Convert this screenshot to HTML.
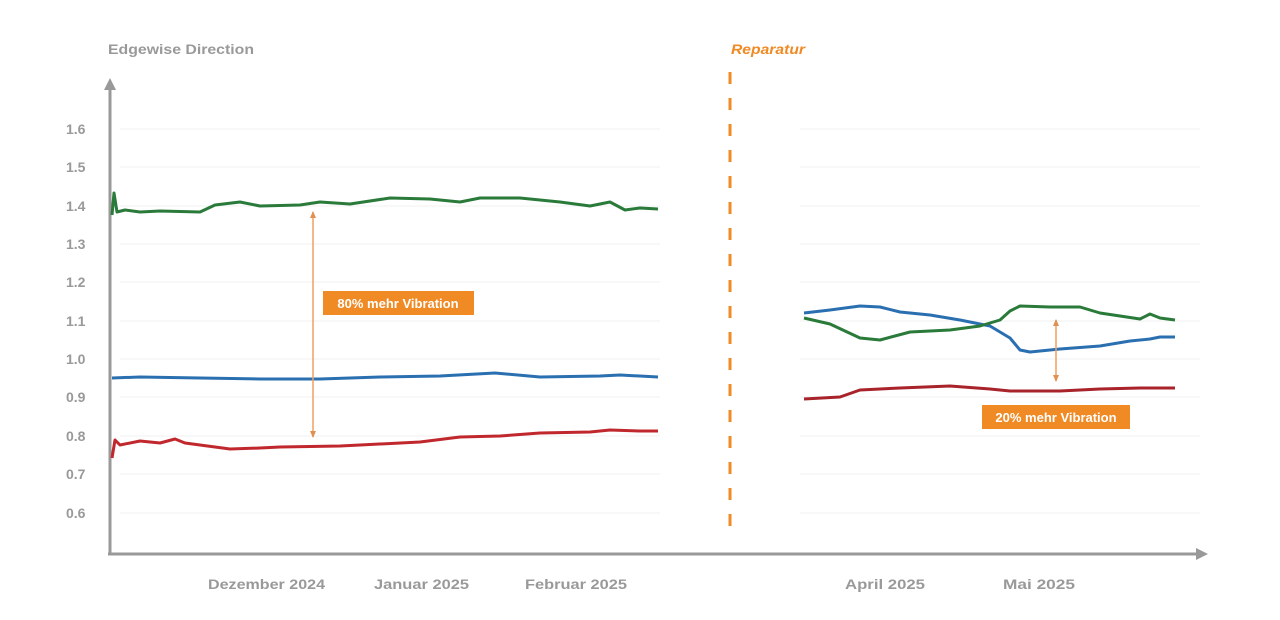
<!DOCTYPE html>
<html><head><meta charset="utf-8"><style>
body{margin:0;background:#fff;width:1280px;height:615px;overflow:hidden}
text{font-family:"Liberation Sans",sans-serif;}
</style></head><body>
<svg width="1280" height="615" viewBox="0 0 1280 615">
<g stroke="#f0f0f0" stroke-width="1">
<line x1="120" y1="129" x2="660" y2="129"/><line x1="120" y1="167" x2="660" y2="167"/><line x1="120" y1="206" x2="660" y2="206"/><line x1="120" y1="244" x2="660" y2="244"/><line x1="120" y1="282" x2="660" y2="282"/><line x1="120" y1="321" x2="660" y2="321"/><line x1="120" y1="359" x2="660" y2="359"/><line x1="120" y1="397" x2="660" y2="397"/><line x1="120" y1="436" x2="660" y2="436"/><line x1="120" y1="474" x2="660" y2="474"/><line x1="120" y1="513" x2="660" y2="513"/>
<line x1="800" y1="129" x2="1200" y2="129"/><line x1="800" y1="167" x2="1200" y2="167"/><line x1="800" y1="206" x2="1200" y2="206"/><line x1="800" y1="244" x2="1200" y2="244"/><line x1="800" y1="282" x2="1200" y2="282"/><line x1="800" y1="321" x2="1200" y2="321"/><line x1="800" y1="359" x2="1200" y2="359"/><line x1="800" y1="397" x2="1200" y2="397"/><line x1="800" y1="436" x2="1200" y2="436"/><line x1="800" y1="474" x2="1200" y2="474"/><line x1="800" y1="513" x2="1200" y2="513"/>
</g>
<g font-size="14" fill="#999" font-weight="bold">
<text x="108" y="54" textLength="146" lengthAdjust="spacingAndGlyphs">Edgewise Direction</text>
<text x="66" y="134">1.6</text><text x="66" y="172">1.5</text><text x="66" y="211">1.4</text><text x="66" y="249">1.3</text><text x="66" y="287">1.2</text><text x="66" y="326">1.1</text><text x="66" y="364">1.0</text><text x="66" y="402">0.9</text><text x="66" y="441">0.8</text><text x="66" y="479">0.7</text><text x="66" y="518">0.6</text>
<text x="208" y="589" textLength="117" lengthAdjust="spacingAndGlyphs">Dezember 2024</text><text x="374" y="589" textLength="95" lengthAdjust="spacingAndGlyphs">Januar 2025</text><text x="525" y="589" textLength="102" lengthAdjust="spacingAndGlyphs">Februar 2025</text><text x="845" y="589" textLength="80" lengthAdjust="spacingAndGlyphs">April 2025</text><text x="1003" y="589" textLength="72" lengthAdjust="spacingAndGlyphs">Mai 2025</text>
</g>
<text x="731" y="54" font-size="14" font-weight="bold" font-style="italic" fill="#f08a24" textLength="74" lengthAdjust="spacingAndGlyphs">Reparatur</text>
<line x1="730" y1="72" x2="730" y2="535" stroke="#f08a24" stroke-width="3" stroke-dasharray="12,14"/>
<g stroke="#999" stroke-width="3" fill="none">
<line x1="110" y1="85" x2="110" y2="554"/><line x1="108" y1="554" x2="1200" y2="554"/>
</g>
<polygon points="104,90 110,78 116,90" fill="#999"/>
<polygon points="1196,548 1208,554 1196,560" fill="#999"/>
<g fill="none" stroke-width="3" stroke-linejoin="round">
<polyline stroke="#2a7a3a" points="112,215 114,193 117,212 125,210 140,212 160,211 200,212 215,205 240,202 260,206 300,205 320,202 350,204 390,198 430,199 460,202 480,198 520,198 560,202 590,206 610,202 625,210 640,208 658,209"/>
<polyline stroke="#2a6fb0" points="112,378 140,377 200,378 260,379 320,379 380,377 440,376 495,373 540,377 600,376 620,375 658,377"/>
<polyline stroke="#c0282d" points="112,458 115,440 120,445 140,441 160,443 175,439 185,443 200,445 230,449 260,448 280,447 340,446 360,445 420,442 460,437 500,436 540,433 590,432 610,430 640,431 658,431"/>
<polyline stroke="#2a6fb0" points="804,313 830,310 860,306 880,307 900,312 930,315 960,320 990,326 1010,338 1020,350 1030,352 1060,349 1100,346 1130,341 1150,339 1160,337 1175,337"/>
<polyline stroke="#2a7a3a" points="804,318 830,324 860,338 880,340 910,332 950,330 980,326 1000,320 1010,311 1020,306 1050,307 1080,307 1100,313 1120,316 1140,319 1150,314 1160,318 1175,320"/>
<polyline stroke="#a8232a" points="804,399 840,397 860,390 900,388 950,386 990,389 1010,391 1060,391 1100,389 1140,388 1175,388"/>
</g>
<g stroke="#f0a060" stroke-width="1.5">
<line x1="313" y1="212" x2="313" y2="437"/><line x1="1056" y1="320" x2="1056" y2="381"/>
</g>
<g fill="#e09050">
<polygon points="310,218 313,211 316,218"/><polygon points="310,431 313,438 316,431"/>
<polygon points="1053,326 1056,319 1059,326"/><polygon points="1053,375 1056,382 1059,375"/>
</g>
<rect x="323" y="291" width="151" height="24" fill="#f08a24"/>
<text x="398" y="308" font-size="13" font-weight="bold" fill="#fff" text-anchor="middle">80% mehr Vibration</text>
<rect x="982" y="405" width="148" height="24" fill="#f08a24"/>
<text x="1056" y="422" font-size="13" font-weight="bold" fill="#fff" text-anchor="middle">20% mehr Vibration</text>
</svg>
</body></html>
